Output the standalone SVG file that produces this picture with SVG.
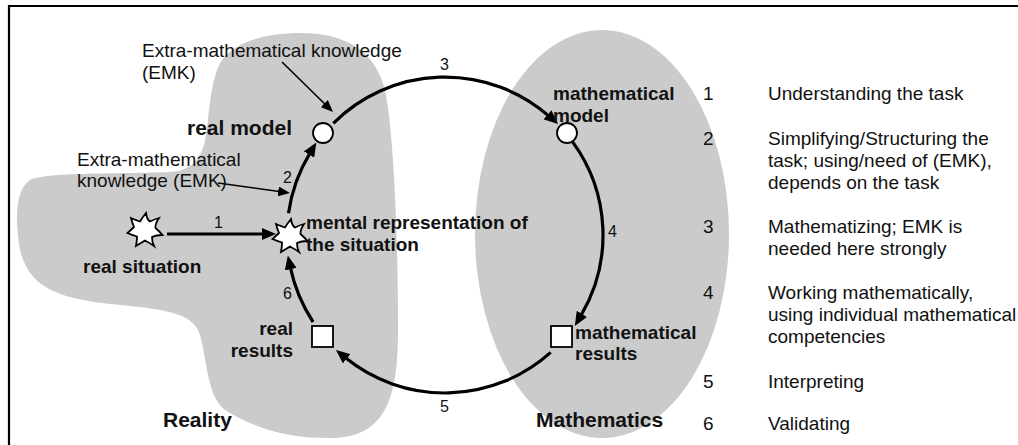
<svg xmlns="http://www.w3.org/2000/svg" width="1018" height="445" viewBox="0 0 1018 445">
<style>
text{font-family:"Liberation Sans",Arial,sans-serif;fill:#111}
.t{font-size:19px}
.b{font-size:19px;font-weight:bold}
.bb{font-size:21px;font-weight:bold}
.n{font-size:16px}
.arc{fill:none;stroke:#000;stroke-width:3.2}
.thin{fill:none;stroke:#000;stroke-width:1.6}
.node{fill:#fff;stroke:#000;stroke-width:1.8}
.area{fill:#cbcbcb}
</style>
<defs>
<marker id="ah" markerUnits="userSpaceOnUse" markerWidth="14" markerHeight="12" refX="2" refY="6" orient="auto"><path d="M0,0 L14,6 L0,12 z" fill="#000"/></marker>
<marker id="ahs" markerUnits="userSpaceOnUse" markerWidth="12" markerHeight="10" refX="1" refY="5" orient="auto"><path d="M0,0 L12,5 L0,10 z" fill="#000"/></marker>
<path id="star" d="M1,-17 Q2,-10 5,-8.5 Q10,-11 14,-12 Q10,-6 10.5,-2 Q15,2 17.5,5 Q11,5 7,7 Q7,12 9,16 Q3,12 0,10.5 Q-4,13 -9,16 Q-8,11 -8,6.5 Q-13,5 -17.5,3 Q-13,-1 -11,-3 Q-13,-8 -14,-12 Q-8,-9.5 -5,-8.5 Q-3,-12 1,-17 Z"/>
</defs>

<path d="M9,445 L9,6 L1018,6" fill="none" stroke="#000" stroke-width="2.2"/>

<g id="reality-area">
<path class="area" d="M217,70 C225,45 260,33 300,33 C345,33 375,50 385,90 C395,140 398,250 398,330 C398,400 385,438 330,438 C280,438 250,425 225,410 C205,395 207,350 198,330 C190,315 170,310 130,306 C60,300 30,290 20,250 C15,220 15,190 30,180 C45,172 120,174 170,172 C200,170 205,150 208,120 C210,100 212,85 217,70 Z"/>
<text class="bb" x="163" y="427">Reality</text>
</g>
<g id="mathematics-area">
<ellipse class="area" cx="602" cy="234" rx="127" ry="204"/>
<text class="bb" x="536" y="427">Mathematics</text>
</g>

<g id="connectors">
<path class="arc" d="M333.3,123.3 A158,158 0 0 1 549.0,116.1" marker-end="url(#ah)"/>
<path class="arc" d="M572.8,142.1 A158,158 0 0 1 580.9,315.6" marker-end="url(#ah)"/>
<path class="arc" d="M550.7,352.4 A158,158 0 0 1 345.2,357.5" marker-end="url(#ah)"/>
<path class="arc" d="M313.1,322.0 A158,158 0 0 1 290.3,267.2" marker-end="url(#ah)"/>
<path class="arc" d="M288.5,213.3 A158,158 0 0 1 310.1,152.8" marker-end="url(#ah)"/>
<path class="arc" d="M167,234 L264,234" marker-end="url(#ah)"/>
<path class="thin" d="M282,62 L325.1,104.3" marker-end="url(#ahs)"/>
<path class="thin" d="M218,183 L279.1,191.5" marker-end="url(#ahs)"/>
<text class="n" x="440" y="70">3</text>
<text class="n" x="608" y="237">4</text>
<text class="n" x="440" y="412">5</text>
<text class="n" x="283" y="299">6</text>
<text class="n" x="283" y="183">2</text>
<text class="n" x="214" y="228">1</text>
</g>

<g id="emk-1">
<text class="t" x="142" y="57">Extra-mathematical knowledge</text>
<text class="t" x="142" y="79">(EMK)</text>
</g>
<g id="emk-2">
<text class="t" x="77" y="166">Extra-mathematical</text>
<text class="t" x="77" y="187">knowledge (EMK)</text>
</g>

<g id="real-situation">
<use href="#star" x="145" y="230" class="node"/>
<text class="b" x="83" y="273">real situation</text>
</g>
<g id="mental-representation">
<use href="#star" x="290" y="236" class="node"/>
<text class="b" x="306" y="229">mental representation of</text>
<text class="b" x="306" y="251">the situation</text>
</g>
<g id="real-model">
<circle class="node" cx="323" cy="133" r="10"/>
<text class="bb" x="187" y="135">real model</text>
</g>
<g id="mathematical-model">
<circle class="node" cx="567" cy="133" r="10"/>
<text class="b" x="553" y="100">mathematical</text>
<text class="b" x="553" y="122">model</text>
</g>
<g id="mathematical-results">
<rect class="node" x="551" y="326" width="21" height="21"/>
<text class="b" x="575" y="339">mathematical</text>
<text class="b" x="575" y="360">results</text>
</g>
<g id="real-results">
<rect class="node" x="312" y="326" width="21" height="21"/>
<text class="b" x="293" y="335" text-anchor="end">real</text>
<text class="b" x="293" y="357" text-anchor="end">results</text>
</g>

<g id="legend">
<text class="t" x="703" y="100">1</text>
<text class="t" x="768" y="100">Understanding the task</text>
<text class="t" x="703" y="145">2</text>
<text class="t" x="768" y="145">Simplifying/Structuring the</text>
<text class="t" x="768" y="167">task; using/need of (EMK),</text>
<text class="t" x="768" y="189">depends on the task</text>
<text class="t" x="703" y="233">3</text>
<text class="t" x="768" y="233">Mathematizing; EMK is</text>
<text class="t" x="768" y="255">needed here strongly</text>
<text class="t" x="703" y="299">4</text>
<text class="t" x="768" y="299">Working mathematically,</text>
<text class="t" x="768" y="321">using individual mathematical</text>
<text class="t" x="768" y="343">competencies</text>
<text class="t" x="703" y="388">5</text>
<text class="t" x="768" y="388">Interpreting</text>
<text class="t" x="703" y="430">6</text>
<text class="t" x="768" y="430">Validating</text>
</g>
</svg>
